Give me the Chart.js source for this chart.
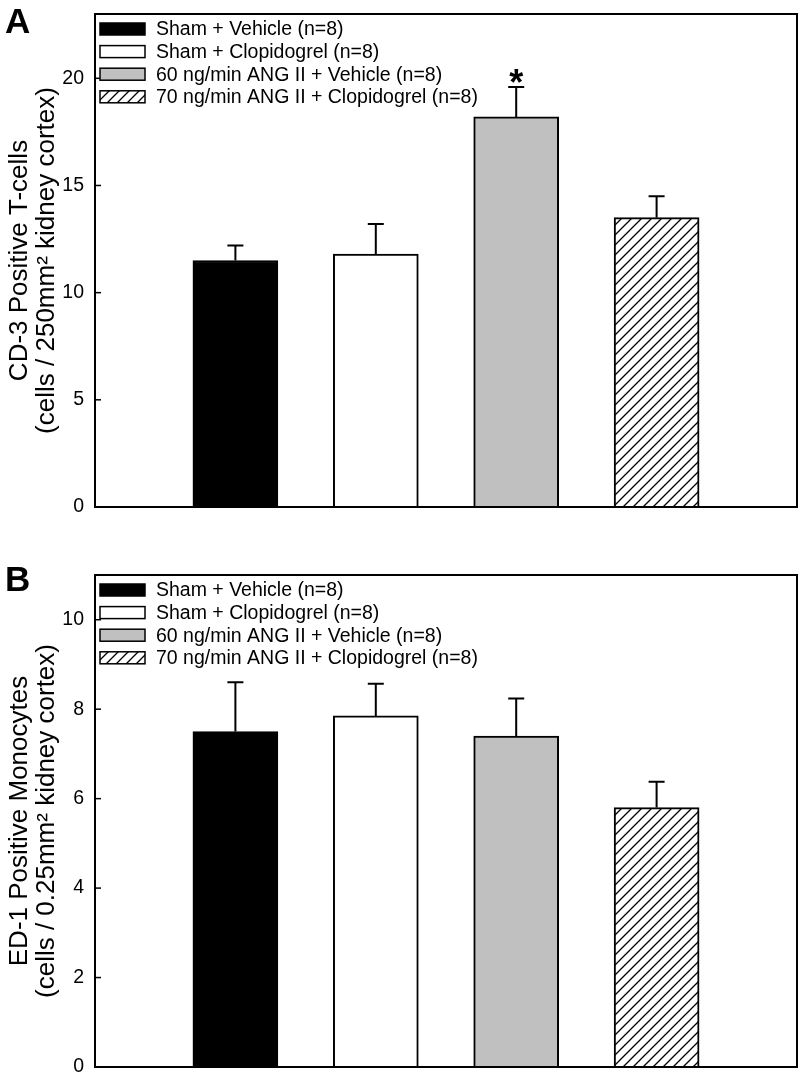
<!DOCTYPE html>
<html>
<head>
<meta charset="utf-8">
<script src="https://cdn.jsdelivr.net/npm/chart.js@4/dist/chart.umd.min.js"></script>
<style>
  html, body { margin: 0; padding: 0; background: #fff; }
  body { width: 802px; height: 1081px; position: relative; overflow: hidden; }
  .panel { position: absolute; left: 0; width: 802px; }
  .letter { position: absolute; left: 5px; font: bold 35px/35px "Liberation Sans", Arial, sans-serif; color: #000; }
</style>
</head>
<body>
<div class="panel" style="top:0;height:540px"><canvas id="chartA" width="802" height="540"></canvas></div>
<div class="panel" style="top:540px;height:541px"><canvas id="chartB" width="802" height="541"></canvas></div>
<div class="letter" style="top:3px">A</div>
<div class="letter" style="top:561px">B</div>
<script>
const groups = ['Sham + Vehicle (n=8)', 'Sham + Clopidogrel (n=8)', '60 ng/min ANG II + Vehicle (n=8)', '70 ng/min ANG II + Clopidogrel (n=8)']

// panel A: CD-3 positive T-cells
const tCellMeans = [11.5, 11.8, 18.2, 13.5]
const tCellErrors = [0.7, 1.4, 1.4, 1.0]
const tCellMarks = ['', '', '*', '']
const tCellTitle = ['CD-3 Positive T-cells', '(cells / 250mm\u00b2 kidney cortex)']

// panel B: ED-1 positive monocytes
const monoMeans = [7.5, 7.85, 7.4, 5.8]
const monoErrors = [1.1, 0.72, 0.84, 0.58]
const monoMarks = ['', '', '', '']
const monoTitle = ['ED-1 Positive Monocytes', '(cells / 0.25mm\u00b2 kidney cortex)']

const FONT = '"Liberation Sans", Arial, sans-serif'

function hatchPattern(ctx) {
    const size = 10
    const c = document.createElement('canvas')
    c.width = size
    c.height = size
    const g = c.getContext('2d')
    g.fillStyle = '#fff'
    g.fillRect(0, 0, size, size)
    g.strokeStyle = '#000'
    g.lineWidth = 1.3
    g.beginPath()
    g.moveTo(0, size); g.lineTo(size, 0)
    g.moveTo(-size / 2, size / 2); g.lineTo(size / 2, -size / 2)
    g.moveTo(size / 2, size * 1.5); g.lineTo(size * 1.5, size / 2)
    g.stroke()
    return ctx.createPattern(c, 'repeat')
}

// box round the plot + inward tick marks
const frame = {
    id: 'frame',
    afterDatasetsDraw(chart) {
        const { ctx, chartArea: a } = chart
        const y = chart.scales.y
        ctx.save()
        ctx.strokeStyle = '#000'
        ctx.lineWidth = 2
        ctx.strokeRect(a.left, a.top, a.right - a.left, a.bottom - a.top)
        ctx.lineWidth = 1.5
        y.ticks.forEach(t => {
            const py = y.getPixelForValue(t.value)
            ctx.beginPath()
            ctx.moveTo(a.left, py)
            ctx.lineTo(a.left + 6, py)
            ctx.stroke()
        })
        ctx.restore()
    }
}

const errorBars = {
    id: 'errorBars',
    afterDatasetsDraw(chart, args, opts) {
        const { ctx } = chart
        const y = chart.scales.y
        const meta = chart.getDatasetMeta(0)
        ctx.save()
        ctx.strokeStyle = '#000'
        ctx.lineWidth = 2
        meta.data.forEach((bar, i) => {
            const top = y.getPixelForValue(opts.means[i] + opts.errors[i])
            const base = y.getPixelForValue(opts.means[i])
            ctx.beginPath()
            ctx.moveTo(bar.x, base)
            ctx.lineTo(bar.x, top)
            ctx.moveTo(bar.x - 8, top)
            ctx.lineTo(bar.x + 8, top)
            ctx.stroke()
            if (opts.marks[i]) {
                ctx.fillStyle = '#000'
                ctx.font = 'bold 36px ' + FONT
                ctx.textAlign = 'center'
                ctx.textBaseline = 'alphabetic'
                ctx.fillText(opts.marks[i], bar.x, top + 8)
            }
        })
        ctx.restore()
    }
}

const legendInside = {
    id: 'legendInside',
    afterDraw(chart) {
        const { ctx, chartArea: a } = chart
        const fills = chart.data.datasets[0].backgroundColor
        ctx.save()
        ctx.font = '19.5px ' + FONT
        ctx.textBaseline = 'middle'
        groups.forEach((label, i) => {
            const cy = a.top + 15 + i * 22.6
            ctx.fillStyle = fills[i]
            ctx.fillRect(a.left + 5, cy - 6, 45, 12)
            ctx.strokeStyle = '#000'
            ctx.lineWidth = 1.5
            ctx.strokeRect(a.left + 5, cy - 6, 45, 12)
            ctx.fillStyle = '#000'
            ctx.fillText(label, a.left + 61, cy + 1)
        })
        ctx.restore()
    }
}

function makeChart(id, means, errors, marks, yMax, yStep, yTitle, pad) {
    const canvas = document.getElementById(id)
    const hatch = hatchPattern(canvas.getContext('2d'))
    return new Chart(canvas, {
        type: 'bar',
        data: {
            datasets: [{
                data: means.map((v, i) => ({ x: i + 1, y: v })),
                backgroundColor: ['#000', '#fff', '#c0c0c0', hatch],
                borderColor: '#000',
                borderWidth: 2,
                barThickness: 85
            }]
        },
        options: {
            responsive: false,
            animation: false,
            layout: { padding: pad },
            plugins: {
                legend: { display: false },
                tooltip: { enabled: false },
                errorBars: { means: means, errors: errors, marks: marks }
            },
            scales: {
                x: { type: 'linear', display: false, min: 0, max: 5, offset: false },
                y: {
                    min: 0,
                    max: yMax,
                    border: { display: false },
                    grid: { display: false, drawTicks: false },
                    ticks: {
                        stepSize: yStep,
                        includeBounds: false,
                        padding: 11,
                        color: '#000',
                        font: { family: FONT, size: 19.5 }
                    },
                    title: {
                        display: true,
                        text: yTitle,
                        color: '#000',
                        font: { family: FONT, size: 26, lineHeight: 1.04 },
                        padding: { top: 6, bottom: 0 }
                    },
                    afterFit: (scale) => {
                        scale.width = 95
                        scale.paddingTop = 0
                        scale.paddingBottom = 0
                    }
                }
            }
        },
        plugins: [frame, errorBars, legendInside]
    })
}

makeChart('chartA', tCellMeans, tCellErrors, tCellMarks, 23, 5, tCellTitle, { top: 14, right: 5, bottom: 33, left: 0 })
makeChart('chartB', monoMeans, monoErrors, monoMarks, 11, 2, monoTitle, { top: 35, right: 5, bottom: 14, left: 0 })
</script>
</body>
</html>
